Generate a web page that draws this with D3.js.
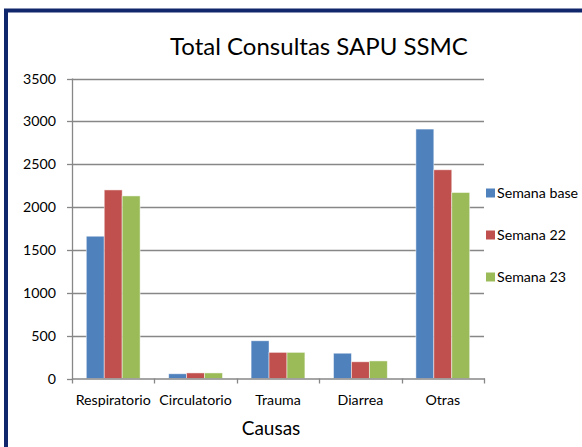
<!DOCTYPE html>
<html>
<head>
<meta charset="utf-8">
<script src="https://cdn.jsdelivr.net/npm/d3@7"></script>
<style>
  body { margin: 0; background: #fff; }
  svg { display: block; font-family: Lato, "Liberation Sans", sans-serif; }
</style>
</head>
<body>
<script>
// chart data
const categories = ["Respiratorio", "Circulatorio", "Trauma", "Diarrea", "Otras"];
const seriesNames = ["Semana base", "Semana 22", "Semana 23"];
const semanaBase = [1660, 55, 440, 295, 2910];
const semana22 = [2200, 65, 305, 195, 2435];
const semana23 = [2130, 65, 305, 205, 2170];
const yTicks = [0, 500, 1000, 1500, 2000, 2500, 3000, 3500];
const colors = ["#4F81BD", "#C0504D", "#9BBB59"];

const seriesValues = [semanaBase, semana22, semana23];

const W = 582, H = 447;
const plotL = 72, plotR = 484, plotT = 78.5, plotB = 378.5;
const labelSize = 14.2;

let svg = d3.select("body").append("svg")
            .attr("width", W)
            .attr("height", H);

// outer frame of the chart
svg.append("rect")
   .attr("x", 6).attr("y", 10.5)
   .attr("width", W + 20).attr("height", H + 20)
   .attr("fill", "#fff")
   .attr("stroke", "#10276B")
   .attr("stroke-width", 4);

// title
svg.append("text")
   .attr("x", 319).attr("y", 55)
   .attr("text-anchor", "middle")
   .attr("font-size", 24)
   .attr("fill", "#000")
   .text("Total Consultas SAPU SSMC");

let y = d3.scaleLinear().domain([0, 3500]).range([plotB, plotT]);
let x = d3.scaleBand().domain(categories).range([plotL, plotR])
          .paddingInner(0.347).paddingOuter(0.1735);
let xs = d3.scaleBand().domain(seriesNames).range([0, x.bandwidth()]);
let edge = d3.scaleLinear().domain([0, categories.length]).range([plotL, plotR]);

// gridlines
svg.append("g").selectAll("line")
   .data(yTicks.filter(d => d > 0))
   .enter().append("line")
   .attr("x1", plotL).attr("x2", plotR)
   .attr("y1", d => Math.round(y(d)) + 0.5)
   .attr("y2", d => Math.round(y(d)) + 0.5)
   .attr("stroke", "#878787")
   .attr("stroke-width", 1.3);

// bars
let groups = svg.append("g").selectAll("g")
   .data(seriesNames)
   .enter().append("g")
   .attr("fill", (d, i) => colors[i]);

groups.selectAll("rect")
   .data((s, i) => seriesValues[i].map((v, j) => ({ s: s, cat: categories[j], v: v })))
   .enter().append("rect")
   .attr("x", d => x(d.cat) + xs(d.s))
   .attr("y", d => y(d.v))
   .attr("width", xs.bandwidth())
   .attr("height", d => plotB - y(d.v))
   .attr("stroke", "rgba(255,255,255,0.6)")
   .attr("stroke-width", 0.8);

// y axis
let yAxis = svg.append("g");
yAxis.append("line")
   .attr("x1", plotL + 0.5).attr("x2", plotL + 0.5)
   .attr("y1", plotT).attr("y2", plotB + 1)
   .attr("stroke", "#878787").attr("stroke-width", 1.3);
yAxis.selectAll("line.tick")
   .data(yTicks)
   .enter().append("line")
   .attr("class", "tick")
   .attr("x1", plotL - 5).attr("x2", plotL)
   .attr("y1", d => Math.round(y(d)) + 0.5)
   .attr("y2", d => Math.round(y(d)) + 0.5)
   .attr("stroke", "#878787").attr("stroke-width", 1.3);
yAxis.selectAll("text")
   .data(yTicks)
   .enter().append("text")
   .attr("x", 56)
   .attr("y", d => y(d) + 5)
   .attr("text-anchor", "end")
   .attr("font-size", labelSize)
   .attr("fill", "#000")
   .text(d => d);

// x axis
let xAxis = svg.append("g");
xAxis.append("line")
   .attr("x1", plotL).attr("x2", plotR + 1)
   .attr("y1", plotB + 0.5).attr("y2", plotB + 0.5)
   .attr("stroke", "#878787").attr("stroke-width", 1.3);
xAxis.selectAll("line.tick")
   .data(d3.range(categories.length + 1))
   .enter().append("line")
   .attr("class", "tick")
   .attr("x1", d => Math.round(edge(d)) + 0.5)
   .attr("x2", d => Math.round(edge(d)) + 0.5)
   .attr("y1", plotB).attr("y2", plotB + 5)
   .attr("stroke", "#878787").attr("stroke-width", 1.3);
xAxis.selectAll("text")
   .data(categories)
   .enter().append("text")
   .attr("x", d => x(d) + x.bandwidth() / 2)
   .attr("y", 405)
   .attr("text-anchor", "middle")
   .attr("font-size", labelSize)
   .attr("fill", "#000")
   .text(d => d);

svg.append("text")
   .attr("x", 271).attr("y", 435)
   .attr("text-anchor", "middle")
   .attr("font-size", 19)
   .attr("fill", "#000")
   .text("Causas");

// legend
let legend = svg.append("g").selectAll("g")
   .data(seriesNames)
   .enter().append("g")
   .attr("transform", (d, i) => "translate(486," + (193 + i * 42) + ")");
legend.append("rect")
   .attr("x", 0).attr("y", -4.5)
   .attr("width", 9).attr("height", 9)
   .attr("fill", (d, i) => colors[i]);
legend.append("text")
   .attr("x", 11).attr("y", 5)
   .attr("font-size", labelSize)
   .attr("fill", "#000")
   .text(d => d);
</script>
</body>
</html>
